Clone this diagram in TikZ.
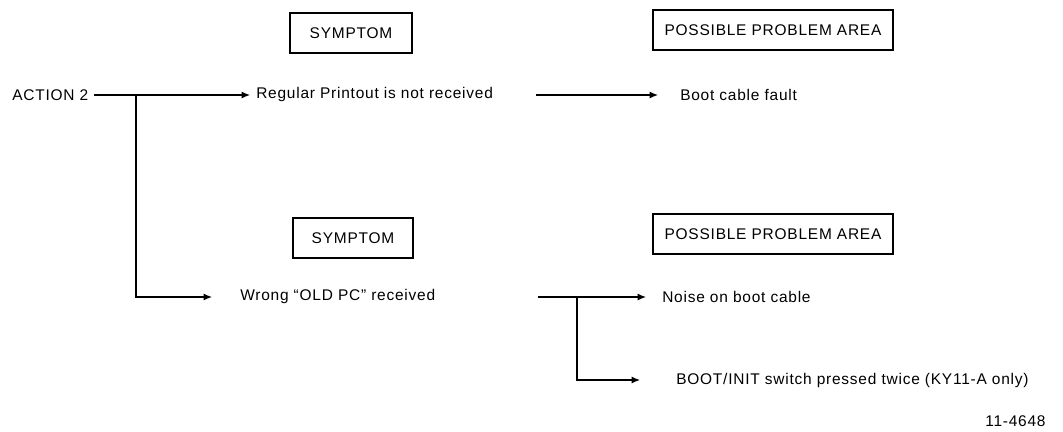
\documentclass[tikz,border=0pt]{standalone}
\usepackage{fontspec}
\setmainfont{Liberation Sans}[LetterSpace=5]
\usetikzlibrary{positioning, arrows.meta, calc}
\tikzset{
  % heading boxes
  headbox/.style={
    draw, line width=1pt, font=\fontsize{11}{13}\selectfont,
    minimum height=1cm, inner xsep=4pt
  },
  % plain text entries
  item/.style={anchor=west, font=\fontsize{11}{13}\selectfont, inner sep=0pt},
  % connectors
  flow/.style={-{Latex[length=6pt, width=5pt]}, line width=0.8pt},
  branch/.style={-, line width=0.8pt},
}

\begin{document}
\begin{tikzpicture}[x=0.025cm, y=-0.025cm]
  \useasboundingbox (0,0) rectangle (1063,432);

  %% -- Headings --
  \node[headbox, minimum width=3.05cm] (symA)  at (351,33)  {SYMPTOM};
  \node[headbox, minimum width=6cm]    (probA) at (773,30)  {POSSIBLE PROBLEM AREA};
  \node[headbox, minimum width=3cm]    (symB)  at (353,238) {SYMPTOM};
  \node[headbox, minimum width=6cm]    (probB) at (773,234) {POSSIBLE PROBLEM AREA};

  %% -- Entries --
  \node[item] (act)       at (12,95)   {ACTION 2};
  \node[item] (regular)   at (256,95)  {Regular Printout is not received};
  \node[item] (bootcable) at (680,95)  {Boot cable fault};
  \node[item] (wrong)     at (240,297) {Wrong ``OLD PC'' received};
  \node[item] (noise)     at (662,297) {Noise on boot cable};
  \node[item] (switch)    at (676,380) {BOOT/INIT switch pressed twice (KY11-A only)};
  \node[item] (fignum)    at (985,421) {11-4648};

  %% -- Branch points --
  \coordinate (splitA) at (136,95);
  \coordinate (outA)   at (536,95);
  \coordinate (outB)   at (538,297);
  \coordinate (splitB) at (577,297);

  %% -- Connectors --
  \draw[branch] ([xshift=4pt]act.east) -- (splitA);
  \draw[flow] (splitA) -- ([xshift=-0.15cm]regular.west);
  \draw[flow] (splitA) |- ([xshift=-0.7cm]wrong.west);
  \draw[flow] (outA) -- ([xshift=-0.55cm]bootcable.west);
  \draw[flow] (outB) -- ([xshift=-0.4cm]noise.west);
  \draw[flow] (splitB) |- ([xshift=-0.9cm]switch.west);

\end{tikzpicture}
\end{document}
